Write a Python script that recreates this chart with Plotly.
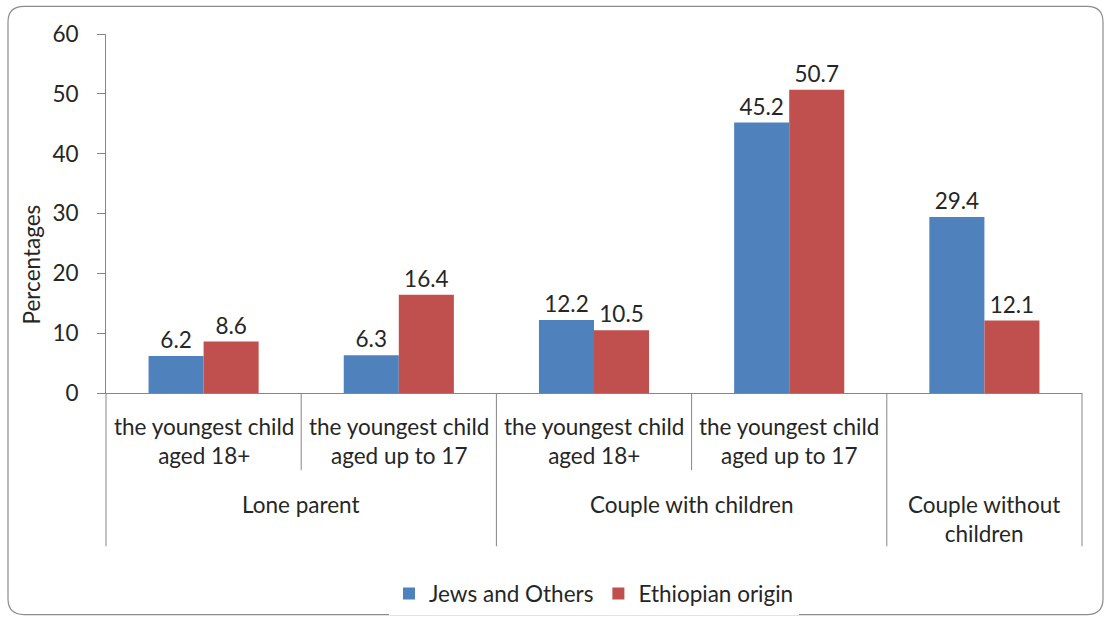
import plotly.graph_objects as go

sub_labels = ["the youngest child<br>aged 18+", "the youngest child<br>aged up to 17",
              "the youngest child<br>aged 18+", "the youngest child<br>aged up to 17", ""]
group_labels = ["Lone parent", "Couple with children", "Couple without<br>children"]
group_spans = [(0, 1), (2, 3), (4, 4)]
series_names = ["Jews and Others", "Ethiopian origin"]
jews = [6.2, 6.3, 12.2, 45.2, 29.4]
ethiopian = [8.6, 16.4, 10.5, 50.7, 12.1]
colors = ["#4F81BD", "#C0504D"]
yticks = [0, 10, 20, 30, 40, 50, 60]

FONT = "Lato, Carlito, Calibri, sans-serif"
FS = 22.5
TXT = "#262626"
AX = "#868686"

x = list(range(len(jews)))
fig = go.Figure()
for name, vals, col in zip(series_names, [jews, ethiopian], colors):
    fig.add_trace(go.Bar(
        x=x, y=vals, name=name, marker=dict(color=col, line=dict(width=0)),
        text=[f"{v:.1f}" for v in vals], textposition="outside",
        textfont=dict(size=FS, color=TXT, family=FONT), cliponaxis=False,
    ))

n = len(x)
L, R, T, B = 106, 1082, 34, 397
W, H = R - L, B - T


def px(i):
    return (i + 0.5) / n


def fx(pxv):
    return (pxv - L) / W


def fy(pyv):
    return (B - pyv) / H


shapes = []
group_edges = set()
for a, b in group_spans:
    group_edges.add(a - 0.5)
    group_edges.add(b + 0.5)
for i in range(n + 1):
    edge = i - 0.5
    long = edge in group_edges
    shapes.append(dict(type="line", xref="paper", yref="paper",
                       x0=px(edge), x1=px(edge), y0=0,
                       y1=fy(552) if long else fy(475),
                       line=dict(color=AX, width=1)))

# outer rounded border
x0, x1, y0, y1, r = 8, 1103, 6, 621, 16
path = (f"M {fx(x0 + r)},{fy(y0)} L {fx(x1 - r)},{fy(y0)} Q {fx(x1)},{fy(y0)} {fx(x1)},{fy(y0 + r)} "
        f"L {fx(x1)},{fy(y1 - r)} Q {fx(x1)},{fy(y1)} {fx(x1 - r)},{fy(y1)} "
        f"L {fx(x0 + r)},{fy(y1)} Q {fx(x0)},{fy(y1)} {fx(x0)},{fy(y1 - r)} "
        f"L {fx(x0)},{fy(y0 + r)} Q {fx(x0)},{fy(y0)} {fx(x0 + r)},{fy(y0)} Z")
shapes.append(dict(type="path", xref="paper", yref="paper", path=path,
                   line=dict(color="#8c8c8c", width=1.2), layer="below"))

annotations = []
for i, lab in enumerate(sub_labels):
    if lab:
        annotations.append(dict(x=px(i), y=fy(415), xref="paper", yref="paper",
                                text=lab, showarrow=False, yanchor="top", xanchor="center",
                                font=dict(size=FS, color=TXT, family=FONT)))
for (a, b), lab in zip(group_spans, group_labels):
    annotations.append(dict(x=(px(a) + px(b)) / 2, y=fy(494), xref="paper", yref="paper",
                            text=lab, showarrow=False, yanchor="top", xanchor="center",
                            font=dict(size=FS, color=TXT, family=FONT)))
annotations.append(dict(x=fx(31), y=fy(267), xref="paper", yref="paper", text="Percentages",
                        textangle=-90, showarrow=False, xanchor="center", yanchor="middle",
                        font=dict(size=FS, color=TXT, family=FONT)))

fig.update_layout(
    width=1107, height=628,
    margin=dict(l=L, r=1107 - R, t=T, b=628 - B),
    paper_bgcolor="white", plot_bgcolor="white",
    barmode="group", bargap=0.436, bargroupgap=0,
    showlegend=True,
    legend=dict(orientation="h", x=0.5, xanchor="center", y=fy(600), yanchor="middle",
                font=dict(size=FS, color=TXT, family=FONT), itemwidth=30,
                traceorder="normal"),
    xaxis=dict(range=[-0.5, n - 0.5], showticklabels=False, showgrid=False, zeroline=False,
               showline=True, linecolor=AX, linewidth=1, ticks="", fixedrange=True),
    yaxis=dict(range=[0, 60], tickvals=yticks, showgrid=False, zeroline=False,
               showline=True, linecolor=AX, linewidth=1, ticks="outside", ticklen=8,
               tickcolor=AX, tickfont=dict(size=FS, color=TXT, family=FONT), ticklabelstandoff=14),
    shapes=shapes, annotations=annotations,
)
fig.write_html("out.html", config={"displayModeBar": False},
               post_script="document.body.style.margin='0';document.body.style.overflow='hidden';")
